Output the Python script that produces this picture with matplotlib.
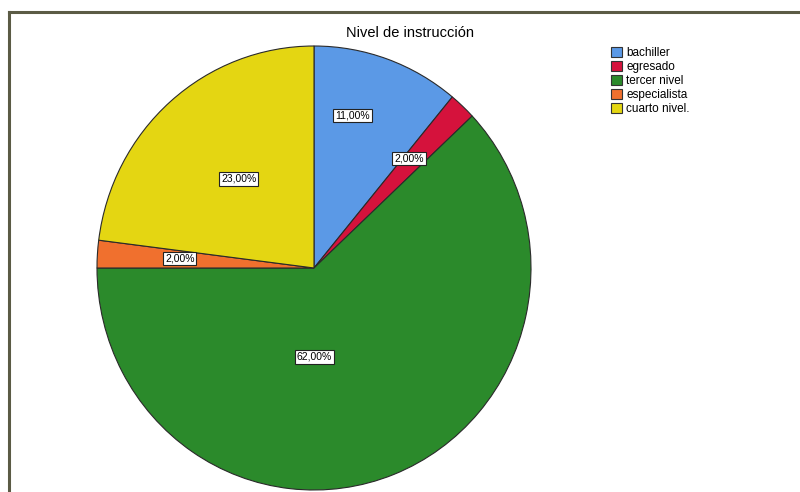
import numpy as np
import matplotlib
matplotlib.use("Agg")
import matplotlib.pyplot as plt
from matplotlib.patches import Patch

plt.rcParams['font.family'] = ['Liberation Sans', 'DejaVu Sans']

# Data
categories = ["bachiller", "egresado", "tercer nivel", "especialista", "cuarto nivel."]
percentages = [11.0, 2.0, 62.0, 2.0, 23.0]
pct_labels = ["11,00%", "2,00%", "62,00%", "2,00%", "23,00%"]
colors = ["#5b99e6", "#d5123c", "#2b8a2b", "#f0702e", "#e4d612"]
title = "Nivel de instrucción"

# label placement (radius fraction, angle in degrees) – SPSS-style placement
label_pos = [(0.71, 75.5), (0.66, 48.4), (0.40, -90.0), (0.62, 176.0), (0.53, 130.8)]

W, H = 800, 492
fig = plt.figure(figsize=(W / 100, H / 100), dpi=100)
fig.patch.set_facecolor("white")

# frame lines (top and left) like the SPSS output border
fig.add_artist(plt.Line2D([8.5 / W, 1], [1 - 11.5 / H, 1 - 11.5 / H], color="#5b5b45", lw=2.2,
                          transform=fig.transFigure))
fig.add_artist(plt.Line2D([8.5 / W, 8.5 / W], [0, 1 - 11.5 / H], color="#5b5b45", lw=2.2,
                          transform=fig.transFigure))

ax = fig.add_axes([97 / W, (H - 490) / H, 434 / W, 444 / H])
wedges, _ = ax.pie(percentages, colors=colors, startangle=90, counterclock=False,
                   wedgeprops=dict(edgecolor="#2a2a2a", linewidth=0.8))
ax.set_aspect("auto")
ax.set_xlim(-1, 1)
ax.set_ylim(-1, 1)
ax.axis("off")

for txt, (rf, ang) in zip(pct_labels, label_pos):
    a = np.deg2rad(ang)
    ax.text(rf * np.cos(a), rf * np.sin(a), txt, ha="center", va="center", fontsize=7.5,
            color="black",
            bbox=dict(boxstyle="square,pad=0.18", facecolor="white", edgecolor="#222222", linewidth=0.8))

fig.text(410 / W, 1 - 33 / H, title, ha="center", va="center", fontsize=10.5, color="black")

handles = [Patch(facecolor=c, edgecolor="#333333", linewidth=0.8) for c in colors]
leg = fig.legend(handles, categories, loc="upper left", bbox_to_anchor=(611 / W, 1 - 47 / H),
                 frameon=False, fontsize=8.5, handlelength=0.95, handleheight=0.95,
                 handletextpad=0.35, labelspacing=0.15, borderpad=0, borderaxespad=0)

fig.savefig("out.png", dpi=100, facecolor="white")
